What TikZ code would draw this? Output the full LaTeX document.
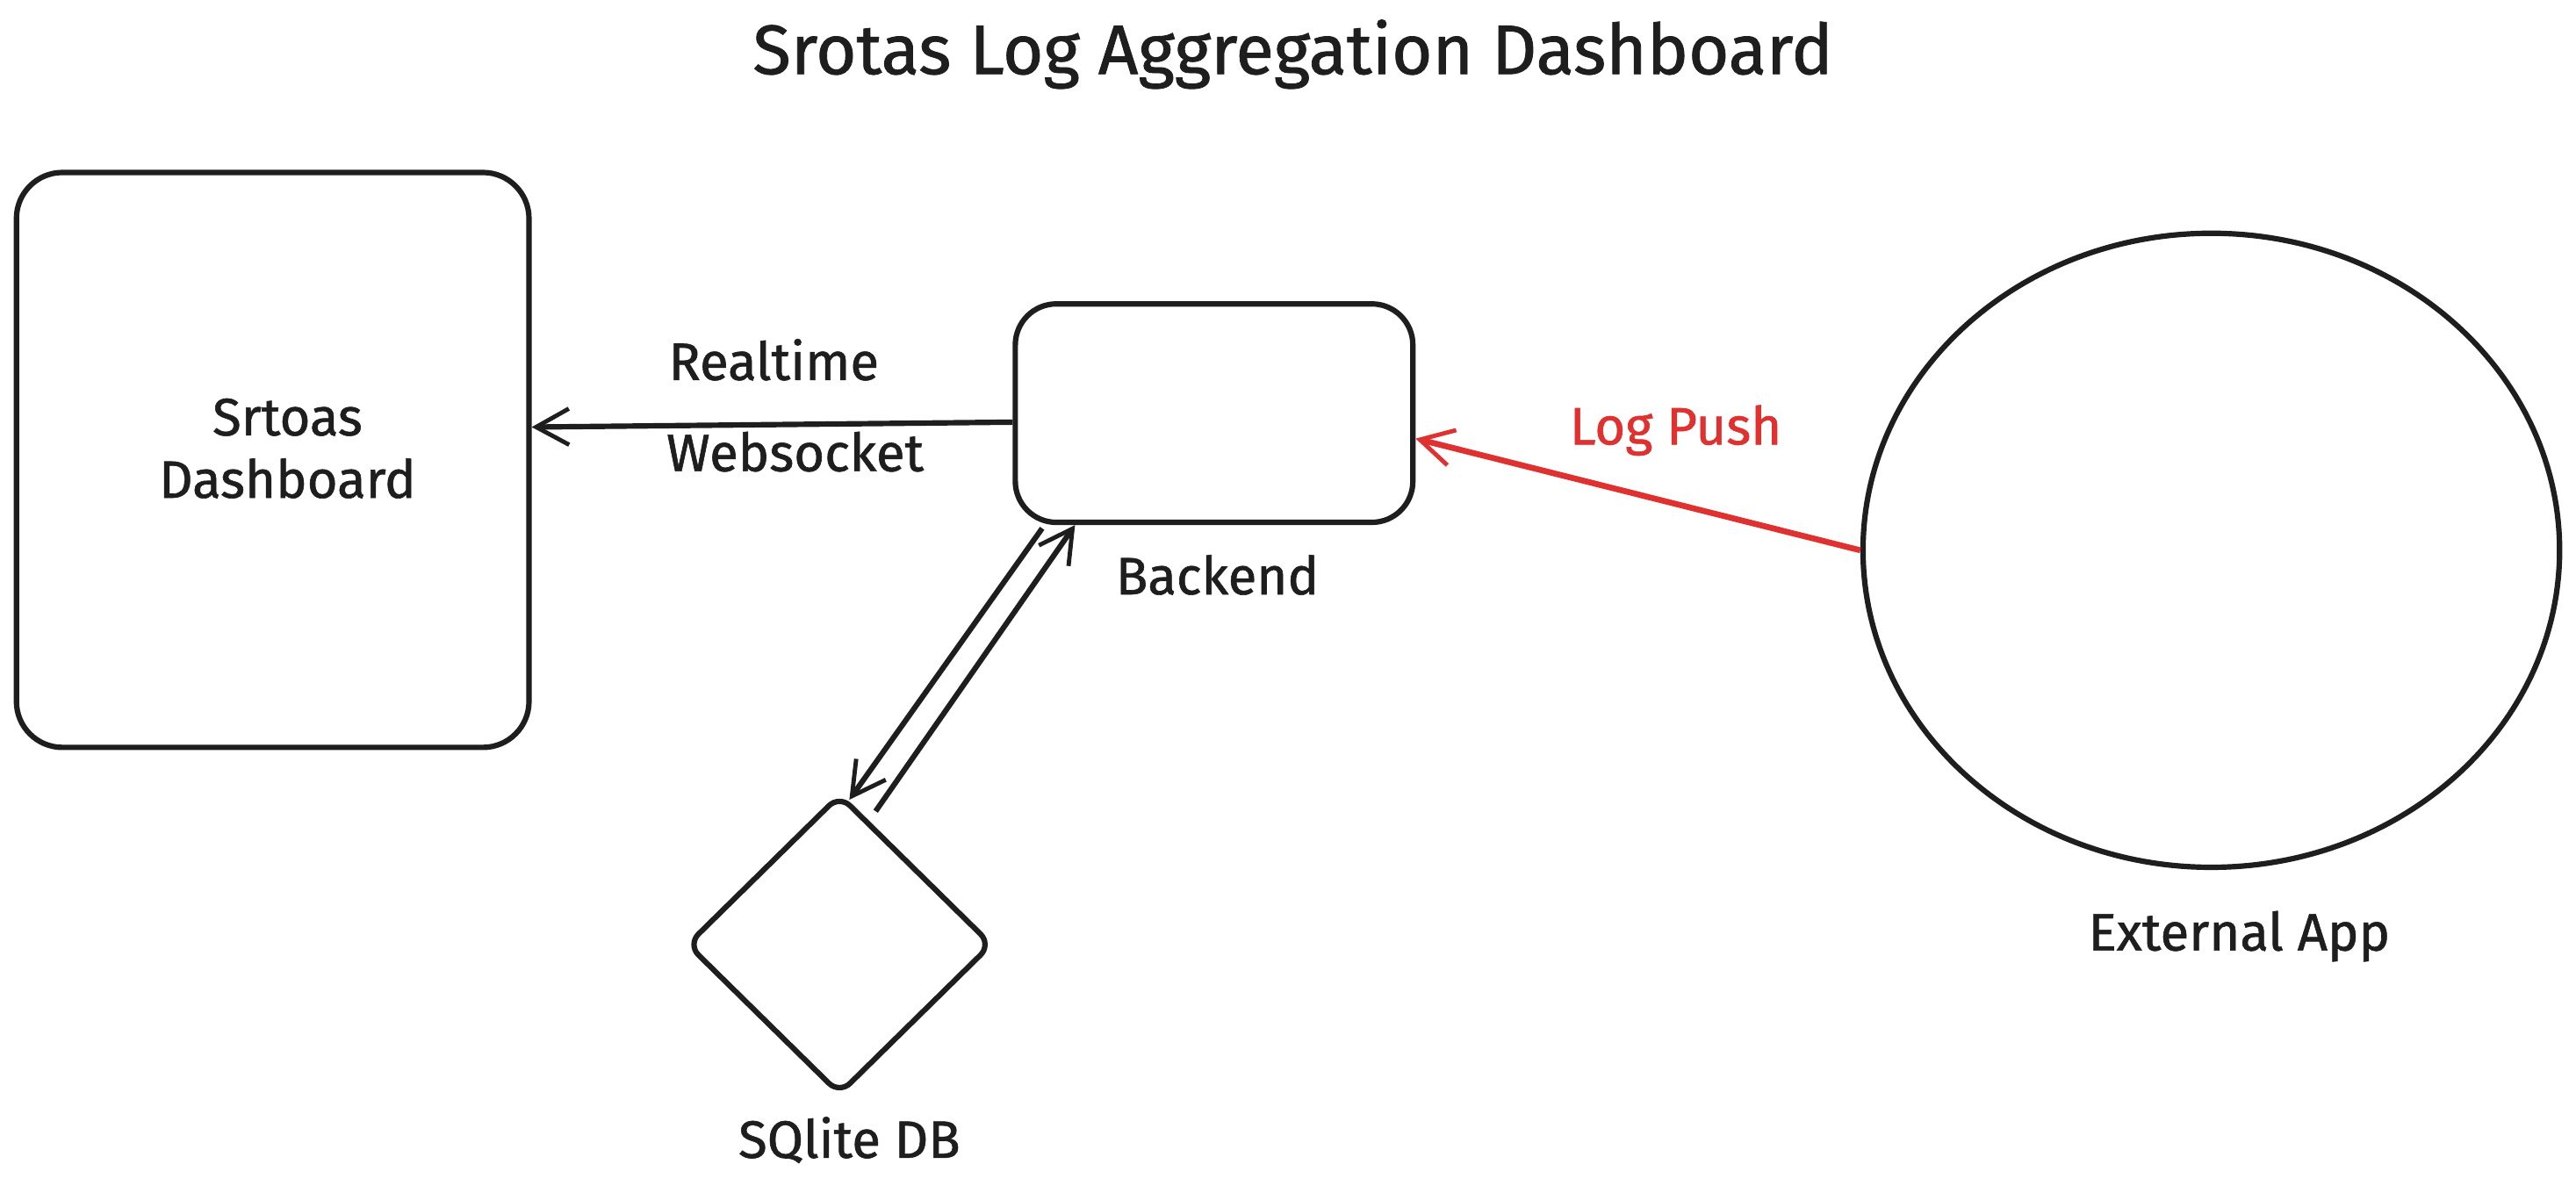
\documentclass[tikz,border=0pt]{standalone}
\usepackage{fontspec}
\newfontfamily\hand[FakeBold=1]{Fira Sans}
\usetikzlibrary{arrows.meta,shapes.geometric,calc}
\definecolor{ink}{HTML}{1E1E1E}
\definecolor{exred}{HTML}{E03131}
\begin{document}
\begin{tikzpicture}[x=1pt,y=-1pt,
  inkline/.style={line width=3.3pt, draw=ink},
  box/.style={inkline, rectangle, inner sep=0pt},
  lbl/.style={font=\hand\fontsize{32}{38}\selectfont, text=ink, inner sep=0pt, align=center},
  conn/.style={inkline, -{Straight Barb[length=20pt,width=22pt,line width=2.6pt]}},
]
\useasboundingbox[fill=white] (0,0) rectangle (1568,726);
\node[lbl, font=\hand\fontsize{42.5}{48}\selectfont] (title) at (787,33) {Srotas Log Aggregation Dashboard};
\node[box, rounded corners=28pt, minimum width=312pt, minimum height=350pt] (dash) at (166,280) {};
\node[lbl, text width=200pt] (dashtxt) at (175,273) {Srtoas\\[0pt]Dashboard};
\node[box, rounded corners=25pt, minimum width=242pt, minimum height=133pt] (be) at (739,251.5) {};
\node[lbl] (belbl) at (741,350) {Backend};
\node[inkline, ellipse, minimum width=424pt, minimum height=386pt, inner sep=0pt] (ext) at (1346,335) {};
\node[lbl] (extlbl) at (1363,570) {External App};
\node[inkline, diamond, rounded corners=9pt, minimum width=186pt, minimum height=183pt, inner sep=0pt] (db) at (511,575) {};
\node[lbl] (dblbl) at (517,694) {SQlite DB};
\node[lbl] (rt) at (471,219) {Realtime};
\node[lbl] (ws) at (484,275) {Websocket};
\node[lbl, text=exred] (lp) at (1020,262) {Log Push};
\draw[conn] ([yshift=-5.5pt]be.west) -- ([yshift=20pt]dash.east);
\draw[conn, draw=exred, line width=3.6pt] (ext.west) -- ([yshift=-15.5pt]be.east);
\draw[conn] ([xshift=18pt,yshift=-2pt]be.south west) -- ([xshift=6pt,yshift=-5pt]db.north);
\draw[conn] ([xshift=22pt,yshift=-12pt]db.north) -- ([xshift=38pt]be.south west);
\end{tikzpicture}
\end{document}
